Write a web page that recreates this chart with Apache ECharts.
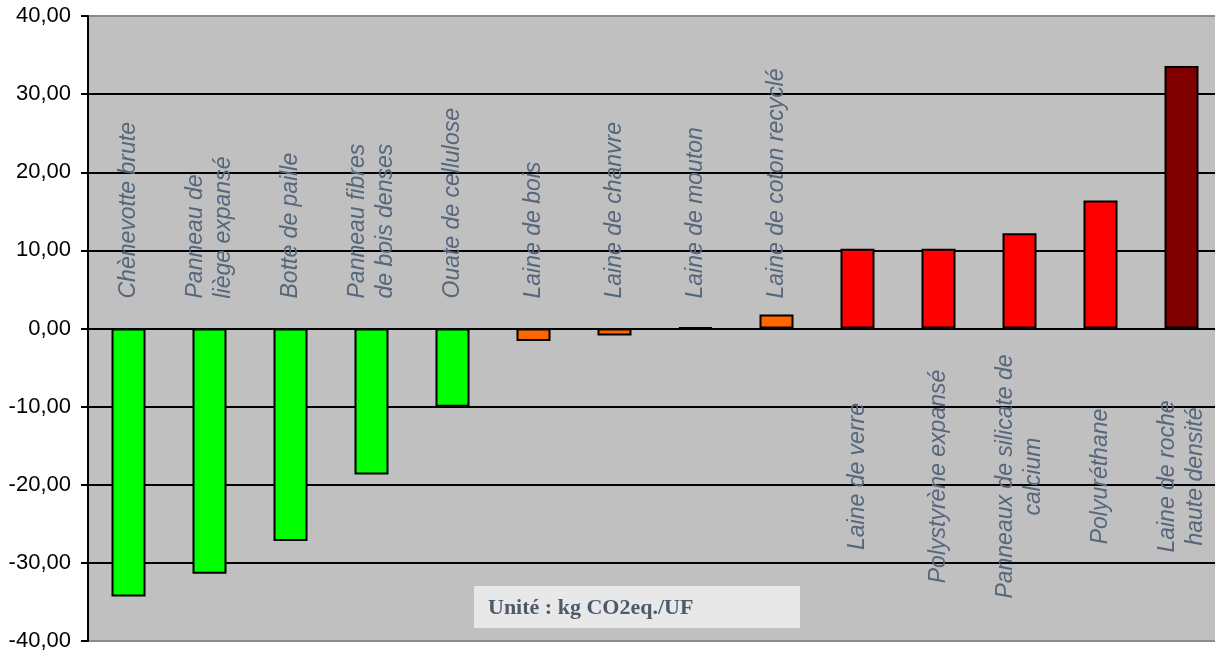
<!DOCTYPE html>
<html>
<head>
<meta charset="utf-8">
<script src="https://cdn.jsdelivr.net/npm/echarts@6/dist/echarts.min.js"></script>
<style>
html,body{margin:0;padding:0;background:#fff;overflow:hidden;width:1215px;height:653px;}
#c{width:1222px;height:653px;}
</style>
</head>
<body>
<div id="c"></div>
<script>
const categories = [
  "Chènevotte brute",
  "Panneau de\nliège expansé",
  "Botte de paille",
  "Panneau fibres\nde bois denses",
  "Ouate de cellulose",
  "Laine de bois",
  "Laine de chanvre",
  "Laine de mouton",
  "Laine de coton recyclé",
  "Laine de verre",
  "Polystyrène expansé",
  "Panneaux de silicate de\ncalcium",
  "Polyuréthane",
  "Laine de roche\nhaute densité"
];
const values = [-34.3, -31.4, -27.2, -18.7, -10.0, -1.6, -0.9, 0.1, 1.8, 10.2, 10.2, 12.2, 16.4, 33.6];
const barColors = ["#00ff00","#00ff00","#00ff00","#00ff00","#00ff00","#ff6600","#ff6600","#ff6600","#ff6600","#ff0000","#ff0000","#ff0000","#ff0000","#800000"];
const yTicks = [-40, -30, -20, -10, 0, 10, 20, 30, 40];
const unitLabel = "Unité : kg CO2eq./UF";

const chart = echarts.init(document.getElementById('c'), null, {renderer: 'canvas'});

const gridColors = yTicks.map((t, i) => (i === 0 || i === yTicks.length - 1) ? '#8c8c8c' : '#000000');

chart.setOption({
  animation: false,
  backgroundColor: '#ffffff',
  grid: {
    left: 88, top: 16, right: 0, height: 625,
    show: true, backgroundColor: '#c0c0c0', borderWidth: 0
  },
  xAxis: {
    type: 'category',
    data: categories,
    axisLine: {show: false},
    axisTick: {show: false},
    axisLabel: {show: false},
    splitLine: {show: false}
  },
  yAxis: {
    type: 'value',
    min: yTicks[0], max: yTicks[yTicks.length - 1], interval: 10,
    axisLine: {show: true, lineStyle: {color: '#000', width: 2}},
    axisTick: {show: true, length: 7, lineStyle: {color: '#000', width: 2}},
    axisLabel: {
      fontFamily: 'Liberation Sans, Arial, sans-serif',
      fontSize: 22, color: '#000', margin: 17,
      formatter: v => v.toFixed(2).replace('.', ',')
    },
    splitLine: {show: true, lineStyle: {color: gridColors, width: 2}}
  },
  series: [
    {
      type: 'bar',
      barWidth: 34,
      data: values.map((v, i) => ({value: v, itemStyle: {color: barColors[i]}})),
      itemStyle: {borderColor: '#000', borderWidth: 2},
      z: 3
    },
    {
      type: 'custom',
      data: values.map((v, i) => [i, v]),
      z: 5,
      silent: true,
      renderItem: function (params, api) {
        const idx = api.value(0);
        const v = api.value(1);
        const p = api.coord([idx, 0]);
        const above = v < 5;
        return {
          type: 'text',
          x: p[0],
          y: above ? p[1] - 30 : p[1] + 148,
          rotation: Math.PI / 2,
          style: {
            text: categories[idx],
            fill: '#56677b',
            font: 'italic 23px "Liberation Sans", Arial, sans-serif',
            textAlign: above ? 'left' : 'center',
            textVerticalAlign: 'middle',
            verticalAlign: 'middle',
            lineHeight: 28
          }
        };
      }
    }
  ],
  graphic: [
    {
      type: 'rect',
      shape: {x: 474, y: 586, width: 326, height: 42},
      style: {fill: '#e8e8e8'},
      z: 10
    },
    {
      type: 'text',
      x: 488, y: 608,
      style: {
        text: unitLabel,
        fill: '#4d5a68',
        font: 'bold 22px "Liberation Serif", "Times New Roman", serif',
        textVerticalAlign: 'middle',
        verticalAlign: 'middle'
      },
      z: 11
    }
  ]
});
</script>
</body>
</html>
